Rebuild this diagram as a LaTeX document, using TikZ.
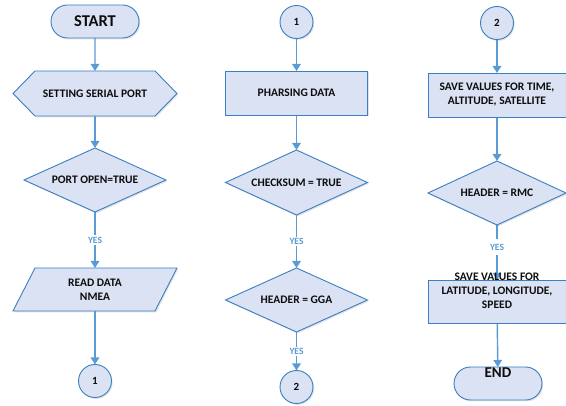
\documentclass[tikz,border=0pt]{standalone}
\usepackage{fontspec}
\setmainfont{Carlito}
\usetikzlibrary{shapes.geometric,shapes.misc,arrows.meta,shadows}
\definecolor{boxfill}{HTML}{DAE2F3}
\definecolor{boxline}{HTML}{3A7FC1}
\definecolor{arrowc}{HTML}{5B9BD5}
\definecolor{txt}{HTML}{0D0D0D}
\pgfdeclarelayer{bg}
\pgfdeclarelayer{lines}
\pgfsetlayers{bg,lines,main}
\tikzset{
  shad/.style={drop shadow={opacity=0.22,shadow xshift=1.2pt,shadow yshift=-1.4pt}},
  txtfont/.style={font=\bfseries\fontsize{11.5}{14}\selectfont},
  base/.style={fill=boxfill, draw=boxline, line width=0.9pt, text=txt, txtfont,
    align=center, inner sep=0pt, outer sep=0pt, shad},
  terminal/.style={base, rounded rectangle, minimum width=88pt, minimum height=33pt,
    font=\bfseries\fontsize{16.5}{19}\selectfont},
  linkpt/.style={base, circle, minimum size=33pt, font=\bfseries\fontsize{11}{13}\selectfont},
  process/.style={base, rectangle, minimum height=44pt},
  decision/.style={base, diamond, minimum height=64pt, aspect=2.2},
  frame/.style={rectangle, inner sep=0pt, outer sep=0pt, text=txt, txtfont, align=center},
  outline/.style={fill=boxfill, draw=boxline, line width=0.9pt, line join=miter, shad},
  flow/.style={draw=arrowc, line width=1.4pt, -{Triangle[length=7pt,width=8.5pt]}},
  yes/.style={fill=white, text=arrowc, font=\bfseries\fontsize{9.5}{11}\selectfont, inner sep=1.5pt},
}
\begin{document}
\begin{tikzpicture}[x=1pt,y=-1pt]
\useasboundingbox (0,0) rectangle (566,406);
% ---------- column 1
\node[terminal] (start) at (95,21.5) {START};
\node[frame, minimum width=164pt, minimum height=45pt] (serial) at (95,93.5) {SETTING SERIAL PORT};
\node[decision, minimum width=142pt] (open) at (95,180) {PORT OPEN=TRUE};
\node[frame, minimum width=164pt, minimum height=43pt] (read) at (95,289.5) {READ DATA\\NMEA};
\node[linkpt] (c1a) at (95,381) {1};
% ---------- column 2
\node[linkpt] (c1b) at (296.5,22) {1};
\node[process, minimum width=142pt] (parse) at (296.5,93) {PHARSING DATA};
\node[decision, minimum width=142pt, minimum height=65pt] (check) at (296.5,182.5) {CHECKSUM = TRUE};
\node[decision, minimum width=142pt] (gga) at (296.5,300) {HEADER = GGA};
\node[linkpt] (c2a) at (296.5,387) {2};
% ---------- column 3
\node[linkpt] (c2b) at (497,23) {2};
\node[process, minimum width=138pt] (savet) at (497,95) {SAVE VALUES FOR TIME,\\ALTITUDE, SATELLITE};
\node[decision, minimum width=138pt] (rmc) at (497,193) {HEADER = RMC};
\node[process, minimum width=138pt, minimum height=43pt,
  label={[yshift=10.5pt, align=center, text=txt, txtfont]center:SAVE VALUES FOR\\LATITUDE, LONGITUDE,\\SPEED}] (savel) at (497,301.5) {};
\node[terminal, label={[yshift=11pt, text=txt, font=\bfseries\fontsize{15}{18}\selectfont]center:END}] (end) at (498,383.5) {};
% ---------- custom outlines
\begin{pgfonlayer}{bg}
\path[outline] ([xshift=22pt]serial.north west) -- ([xshift=-22pt]serial.north east)
  -- (serial.east) -- ([xshift=-22pt]serial.south east)
  -- ([xshift=22pt]serial.south west) -- (serial.west) -- cycle;
\path[outline] ([xshift=22pt]read.north west) -- (read.north east)
  -- ([xshift=-22pt]read.south east) -- (read.south west) -- cycle;
\end{pgfonlayer}
% ---------- connectors
\begin{pgfonlayer}{lines}
\draw[flow] (start) -- (serial);
\draw[flow] (serial) -- (open);
\draw[flow] (open) -- node[yes]{YES} (read);
\draw[flow] (read) -- (c1a);
\draw[flow] (c1b) -- (parse);
\draw[flow] (parse) -- (check);
\draw[flow] (check) -- node[yes]{YES} (gga);
\draw[flow] (gga) -- node[yes]{YES} (c2a);
\draw[flow] (c2b) -- (savet);
\draw[flow] (savet) -- (rmc);
\draw[flow] (rmc) -- node[yes, pos=0.4, inner ysep=5pt]{YES} (savel);
\draw[flow] (savel) -- (end);
\end{pgfonlayer}
\end{tikzpicture}
\end{document}
